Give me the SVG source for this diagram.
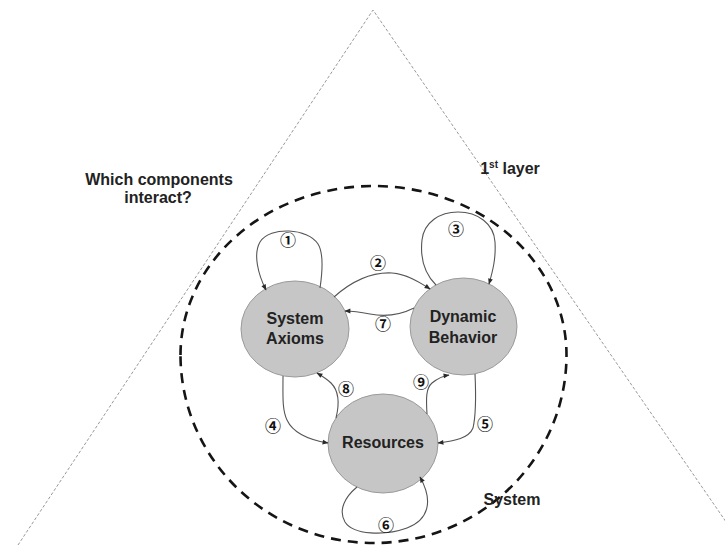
<svg xmlns="http://www.w3.org/2000/svg" width="725" height="545" viewBox="0 0 725 545">
  <defs>
    <marker id="arr" viewBox="0 0 10 10" refX="9" refY="5" markerWidth="7" markerHeight="6" orient="auto" markerUnits="userSpaceOnUse">
      <path d="M0,1 L10,5 L0,9 z" fill="#2a2a2a"/>
    </marker>
    <style>
      .layer { fill: none; stroke: #8c8c8c; stroke-width: 0.9; stroke-dasharray: 3 2; }
      .boundary { fill: none; stroke: #151515; stroke-width: 2.6; stroke-dasharray: 10 7; }
      .node { fill: #c6c6c6; stroke: #9a9a9a; stroke-width: 1; }
      .label { font-family: "Liberation Sans", Arial, sans-serif; font-weight: bold; font-size: 16px; fill: #222; text-anchor: middle; }
      .edge { fill: none; stroke: #555; stroke-width: 1.1; marker-end: url(#arr); }
      .num { font-family: "Noto Sans CJK JP", "DejaVu Sans", sans-serif; font-size: 16px; font-weight: bold; fill: #111; text-anchor: middle; dominant-baseline: central; }
    </style>
  </defs>

  <rect width="725" height="545" fill="#ffffff"/>

  <!-- outer layer triangle -->
  <polyline class="layer" points="18,545 373,10 742,545"/>

  <!-- system boundary -->
  <path class="boundary" d="M180.5,355 A193 169 0 0 1 566.5,355 A193 188 0 0 1 180.5,355 Z"/>

  <!-- free labels -->
  <text class="label" x="159" y="185">Which components</text>
  <text class="label" x="158" y="203">interact?</text>
  <text class="label" x="510" y="174" text-anchor="start">1<tspan font-size="10" dy="-6">st</tspan><tspan dy="6"> layer</tspan></text>
  <text class="label" x="512" y="505" text-anchor="start">System</text>

  <!-- nodes -->
  <g id="system-axioms">
    <ellipse class="node" cx="295" cy="329" rx="54" ry="48"/>
    <text class="label" x="295" y="324">System</text>
    <text class="label" x="295" y="344">Axioms</text>
  </g>
  <g id="dynamic-behavior">
    <ellipse class="node" cx="463.5" cy="326.5" rx="53.5" ry="48.5"/>
    <text class="label" x="463" y="322">Dynamic</text>
    <text class="label" x="463" y="343">Behavior</text>
  </g>
  <g id="resources">
    <ellipse class="node" cx="383" cy="443.5" rx="55" ry="49.5"/>
    <text class="label" x="383" y="448">Resources</text>
  </g>

  <!-- connectors -->
  <g id="connectors">
    <path class="edge" d="M320,288 C323,268 323,252 318,244 C308,228 270,226 260,242 C253,254 258,274 266,290"/>
    <path class="edge" d="M334,297 C352,281 372,272 392,273 C406,274 418,281 430,289"/>
    <path class="edge" d="M436,285 C425,274 420,258 422,240 C424,222 440,212 458,212 C478,212 494,224 495,242 C496,258 493,270 489,284"/>
    <path class="edge" d="M283,376 C283,395 282,410 287,420 C293,433 310,440 328,443"/>
    <path class="edge" d="M475,374 C476,395 476,415 473,428 C469,438 455,441 438,443"/>
    <path class="edge" d="M357,487 C345,497 338,510 345,522 C353,535 385,536 407,528 C428,520 434,502 420,477"/>
    <path class="edge" d="M414,308 C400,315 385,317 370,314 C360,312 352,311 345,311"/>
    <path class="edge" d="M336,418 C340,402 338,390 331,383 C327,379 322,376 317,373"/>
    <path class="edge" d="M427,414 C426,398 426,388 432,383 C437,379 442,376 449,375"/>
  </g>

  <!-- connector numbers -->
  <g id="numbers">
    <text class="num" x="288" y="239">①</text>
    <text class="num" x="378" y="262">②</text>
    <text class="num" x="456" y="228">③</text>
    <text class="num" x="273" y="425">④</text>
    <text class="num" x="485" y="423">⑤</text>
    <text class="num" x="386" y="524">⑥</text>
    <text class="num" x="383" y="323">⑦</text>
    <text class="num" x="346" y="388">⑧</text>
    <text class="num" x="421" y="381">⑨</text>
  </g>
</svg>
